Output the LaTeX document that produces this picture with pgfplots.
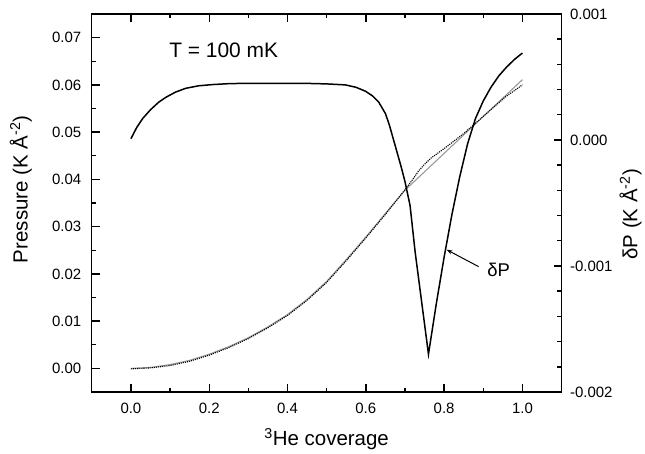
\documentclass[border=0pt]{standalone}
\usepackage{fontspec}
\setmainfont{Liberation Sans}
\usepackage{pgfplots}
\pgfplotsset{compat=1.18}
\usetikzlibrary{arrows.meta}

\pgfplotstableread{
x p
0.00 0.0000
0.05 0.0002
0.10 0.0008
0.15 0.0017
0.20 0.0030
0.25 0.0046
0.30 0.0065
0.35 0.0088
0.40 0.0114
0.45 0.0146
0.50 0.0184
0.55 0.0230
0.60 0.0278
0.65 0.0328
0.70 0.0377
0.75 0.0416
0.80 0.0455
0.85 0.0494
0.90 0.0533
0.95 0.0572
1.00 0.0611
}\pressgray

\pgfplotstableread{
x p
0.00 -0.0001
0.05 0.0001
0.10 0.0006
0.15 0.0015
0.20 0.0028
0.25 0.0044
0.30 0.0063
0.35 0.0086
0.40 0.0112
0.45 0.0144
0.50 0.0182
0.55 0.0228
0.60 0.0276
0.65 0.0326
0.70 0.0378
0.72 0.0400
0.735 0.0418
0.75 0.0432
0.768 0.0446
0.79 0.0459
0.811 0.0472
0.85 0.0497
0.879 0.0518
0.92 0.0548
0.956 0.0574
1.00 0.0600
}\pressdot

\pgfplotstableread{
x d
0.000 0.00001
0.015 0.00010
0.030 0.00017
0.050 0.00024
0.071 0.00030
0.090 0.00034
0.114 0.00038
0.140 0.00041
0.173 0.00043
0.210 0.00044
0.250 0.000447
0.300 0.00045
0.400 0.00045
0.450 0.000449
0.500 0.000445
0.548 0.000437
0.575 0.000418
0.599 0.000387
0.617 0.00035
0.633 0.00030
0.650 0.00021
0.660 0.00012
0.670 0.00001
0.680 -0.00010
0.690 -0.00021
0.700 -0.00033
0.713 -0.00052
0.726 -0.00089
0.760 -0.00170
0.780 -0.00130
0.800 -0.00093
0.820 -0.00059
0.840 -0.00029
0.860 -0.00003
0.880 0.00017
0.900 0.00031
0.920 0.00042
0.940 0.00051
0.960 0.00058
0.980 0.00064
1.000 0.00069
}\deltap

\begin{document}
\begin{tikzpicture}
\path (-92pt,-62pt) rectangle (553pt,393pt);
\begin{axis}[
  scale only axis,
  width=471pt, height=379pt,
  xmin=-0.1, xmax=1.1,
  ymin=-0.005, ymax=0.075,
  xtick={0,0.2,...,1.0},
  ytick={0,0.01,...,0.07},
  minor x tick num=1,
  minor y tick num=1,
  ytick pos=left,
  tick align=inside,
  major tick length=8pt,
  minor tick length=4.5pt,
  tick style={black, line width=1.4pt},
  axis line style={line width=1.2pt},
  scaled ticks=false,
  /pgf/number format/assume math mode=true,
  tick label style={font=\fontsize{15}{17}\selectfont},
  xticklabel style={yshift=-8pt, /pgf/number format/.cd, fixed, fixed zerofill, precision=1},
  yticklabel style={xshift=-7pt, /pgf/number format/.cd, fixed, fixed zerofill, precision=2},
  xlabel={\textsuperscript{3}He coverage},
  ylabel={Pressure (K Å\textsuperscript{-2})},
  label style={font=\fontsize{20.5}{22}\selectfont},
  xlabel style={at={(axis description cs:0.5,-0.124)}, anchor=center},
  ylabel style={at={(axis description cs:-0.151,0.536)}, anchor=center},
]
\addplot[gray!80, line width=1.1pt] table[x=x,y=p] {\pressgray};
\addplot[black, line width=1.1pt, densely dotted] table[x=x,y=p] {\pressdot};
\node[font=\fontsize{21}{23}\selectfont] at (axis cs:0.237,0.0674) {T = 100 mK};
\end{axis}
\begin{axis}[
  scale only axis,
  width=471pt, height=379pt,
  xmin=-0.1, xmax=1.1,
  ymin=-0.002, ymax=0.001,
  axis x line=none,
  axis y line*=right,
  ytick={-0.002,-0.001,0,0.001},
  minor y tick num=4,
  tick align=inside,
  major tick length=8pt,
  minor tick length=4.5pt,
  tick style={black, line width=1.4pt},
  axis line style={line width=1.2pt},
  scaled ticks=false,
  /pgf/number format/assume math mode=true,
  tick label style={font=\fontsize{15}{17}\selectfont},
  yticklabel style={xshift=5pt, /pgf/number format/.cd, fixed, fixed zerofill, precision=3},
  ylabel={δP (K Å\textsuperscript{-2})},
  label style={font=\fontsize{20.5}{22}\selectfont},
  ylabel style={at={(axis description cs:1.147,0.47)}, anchor=center},
]
\addplot[black, line width=1.5pt] table[x=x,y=d] {\deltap};
\node[font=\fontsize{18.5}{20}\selectfont] at (axis cs:0.939,-0.00103) {δP};
\draw[-{Stealth[length=6pt,width=4pt]}, line width=1pt] (axis cs:0.888,-0.001005) -- (axis cs:0.806,-0.00087);
\end{axis}
\end{tikzpicture}
\end{document}
